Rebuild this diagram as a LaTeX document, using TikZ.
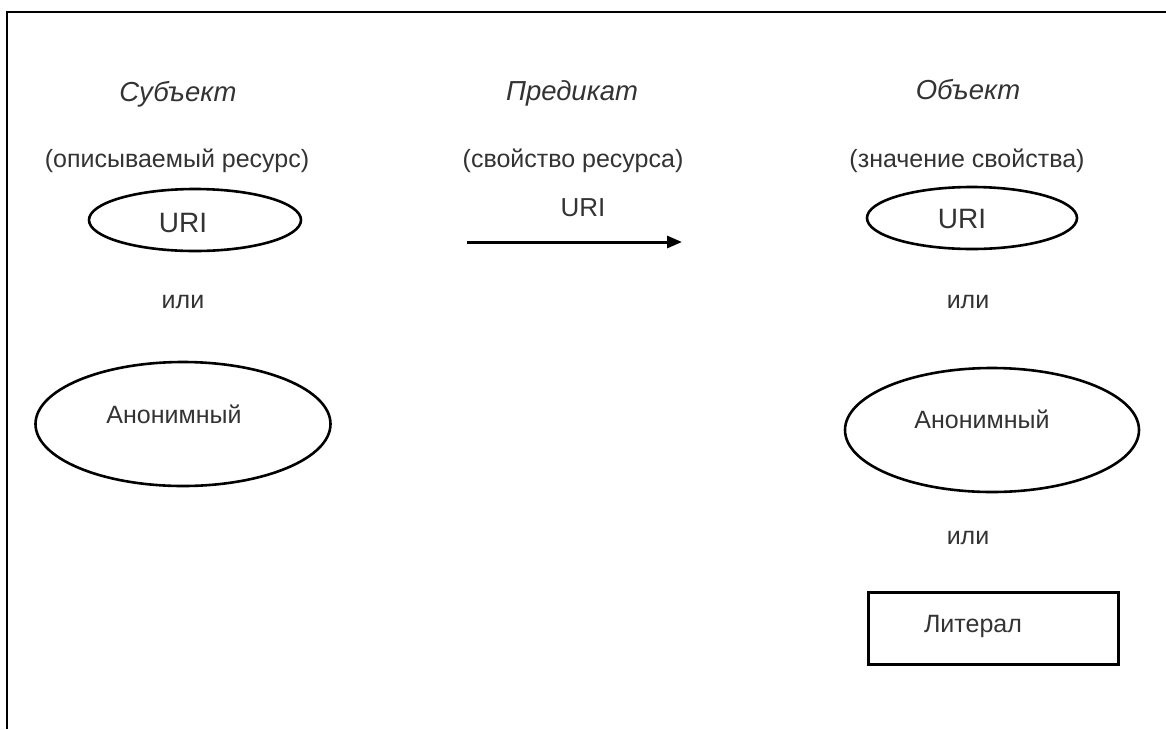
\documentclass[tikz,border=0pt]{standalone}
\usepackage{fontspec}
\setmainfont{Liberation Sans}
\usetikzlibrary{shapes.geometric,arrows.meta}
\definecolor{ink}{HTML}{333333}
\tikzset{
  txt/.style={inner sep=0pt, anchor=base, text=ink, font=\fontsize{25}{30}\selectfont},
  head/.style={txt, font=\fontsize{27.5}{32}\selectfont\itshape},
  uritxt/.style={txt, font=\fontsize{28}{32}\selectfont},
  oval/.style={ellipse, draw=black, line width=2.6pt, inner sep=0pt},
  litbox/.style={rectangle, draw=black, line width=3pt, inner sep=0pt},
  frameline/.style={draw=black, line width=2.2pt},
  predarrow/.style={draw=black, line width=3pt, -{Triangle[length=15pt,width=12pt]}}
}
\begin{document}
\begin{tikzpicture}[x=1pt,y=-1pt]
\useasboundingbox (0,0) rectangle (1166,729);
\fill[white] (0,0) rectangle (1166,729);

% frame: top and left edges
\coordinate (fcorner) at (7,12);
\coordinate (fright) at (1166,12);
\coordinate (fbottom) at (7,729);
\draw[frameline] (fright) -- (fcorner) -- (fbottom);

% column headings
\node[head] (subjhead) at (178,101) {Субъект};
\node[txt]  (subjnote) at (177,167) {(описываемый ресурс)};
\node[head] (predhead) at (572,100) {Предикат};
\node[txt]  (prednote) at (573,167) {(свойство ресурса)};
\node[head] (objhead)  at (968,99)  {Объект};
\node[txt]  (objnote)  at (967,167) {(значение свойства)};

% subject
\node[oval, minimum width=212pt, minimum height=62pt] (subjuri) at (195,220) {};
\node[uritxt] (subjuritxt) at (183,232) {URI};
\node[txt] (subjor) at (183,308) {или};
\node[oval, minimum width=295pt, minimum height=124pt] (subjanon) at (183,424) {};
\node[txt] (subjanontxt) at (174,423) {Анонимный};

% predicate
\node[txt, font=\fontsize{26}{30}\selectfont] (preduri) at (583,216) {URI};
\coordinate (predfrom) at (467,242);
\coordinate (predto) at (682,242);
\draw[predarrow] (predfrom) -- (predto);

% object
\node[oval, minimum width=210pt, minimum height=62pt] (objuri) at (972,218) {};
\node[uritxt] (objuritxt) at (962,228) {URI};
\node[txt] (objor) at (968,308) {или};
\node[oval, minimum width=294pt, minimum height=124pt] (objanon) at (992,430) {};
\node[txt] (objanontxt) at (982,428) {Анонимный};
\node[txt] (objor2) at (968,544) {или};
\node[litbox, minimum width=250pt, minimum height=72pt] (literal) at (993,628) {};
\node[txt] (literaltxt) at (973,632) {Литерал};
\end{tikzpicture}
\end{document}
